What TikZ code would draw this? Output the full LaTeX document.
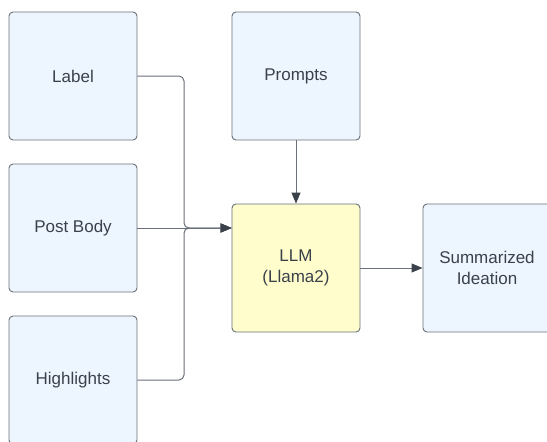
\documentclass[tikz,border=0pt]{standalone}
\usepackage{fontspec}
\setmainfont{Liberation Sans}
\usetikzlibrary{positioning, arrows.meta}
\definecolor{boxfill}{HTML}{EDF5FF}
\definecolor{llmfill}{HTML}{FFFDCC}
\definecolor{edge}{HTML}{6A7079}
\definecolor{ink}{HTML}{3A414A}

\begin{document}
\begin{tikzpicture}[x=1pt, y=-1pt]
	\tikzstyle{inbox}=[rectangle, rounded corners=4pt, draw=edge, line width=0.9pt, fill=boxfill, minimum width=128pt, minimum height=128pt, text=ink, font=\fontsize{17}{21}\selectfont, align=center, inner sep=0pt]
	\tikzstyle{flow}=[draw=edge, line width=1pt, rounded corners=5pt, -{Triangle[length=11pt, width=9pt, color=ink]}]

	\useasboundingbox (0,0) rectangle (547,442);
	\clip (0,0) rectangle (547,442);

	% inputs on the left
	\foreach \name/\txt/\y in {label/Label/76, postbody/Post Body/228, highlights/Highlights/380}{
		\node[inbox] (\name) at (73, \y) {\txt};
	}

	\node[inbox] (prompts) at (296, 76) {Prompts};
	\node[inbox, fill=llmfill] (llm) at (296, 268) {LLM\\(Llama2)};
	\node[inbox] (summary) at (487, 268) {Summarized\\Ideation};

	\coordinate (merge) at (184, 228);

	\draw[flow] (label.east) -| (merge) -- (llm.west |- merge);
	\draw[flow] (highlights.east) -| (merge) -- (llm.west |- merge);
	\draw[flow] (postbody.east) -- (llm.west |- postbody.east);
	\draw[flow] (prompts.south) -- (llm.north);
	\draw[flow] (llm.east) -- (summary.west);
\end{tikzpicture}
\end{document}
